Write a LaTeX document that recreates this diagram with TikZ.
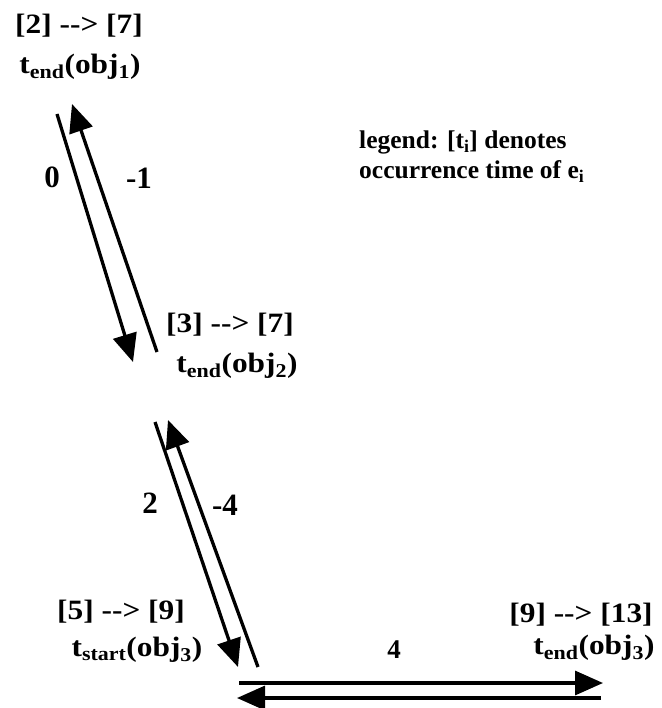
\documentclass[tikz,border=0pt]{standalone}
\usepackage{fontspec}
\setmainfont{Liberation Serif}
\newfontfamily\widefont[FakeStretch=1.12]{Liberation Serif}
\usetikzlibrary{arrows.meta}
\begin{document}
\begin{tikzpicture}[x=1pt,y=-1pt,
  lbl/.style={inner sep=0pt, font=\widefont\fontsize{28}{31}\selectfont\bfseries},
  legendtext/.style={inner sep=0pt, font=\fontsize{25.5}{30}\selectfont\bfseries},
  num/.style={inner sep=0pt, font=\fontsize{31}{33}\selectfont\bfseries},
  edge/.style={line width=3.3pt, -{Triangle[length=28pt,width=24pt]}}]
\useasboundingbox (0,0) rectangle (661,708);
% node labels
\node[lbl] (v1a) at (79,26) {[2] -{}-> [7]};
\node[lbl] (v1b) at (80,67) {t\textsubscript{end}(obj\textsubscript{1})};
\node[lbl] (v2a) at (230,325) {[3] -{}-> [7]};
\node[lbl] (v2b) at (237,366) {t\textsubscript{end}(obj\textsubscript{2})};
\node[lbl] (v3a) at (121,612) {[5] -{}-> [9]};
\node[lbl] (v3b) at (137,650) {t\textsubscript{start}(obj\textsubscript{3})};
\node[lbl] (v4a) at (581,615) {[9] -{}-> [13]};
\node[lbl] (v4b) at (594,648) {t\textsubscript{end}(obj\textsubscript{3})};
% legend
\node[legendtext, anchor=west, align=left] (legend) at (359,157)
  {legend: [t\textsubscript{i}] denotes\\occurrence time of e\textsubscript{i}};
% edge end points
\coordinate (p1s) at (57,114);  \coordinate (p1e) at (133,362);
\coordinate (q1s) at (157,352); \coordinate (q1e) at (72,104);
\coordinate (p2s) at (155,422); \coordinate (p2e) at (238,667);
\coordinate (q2s) at (258,667); \coordinate (q2e) at (168,420);
\coordinate (p3s) at (239,683); \coordinate (p3e) at (603,683);
\coordinate (q3s) at (601,698); \coordinate (q3e) at (237,698);
% connectors
\draw[edge] (p1s) -- (p1e);
\draw[edge] (q1s) -- (q1e);
\draw[edge] (p2s) -- (p2e);
\draw[edge] (q2s) -- (q2e);
\draw[edge] (p3s) -- (p3e);
\draw[edge] (q3s) -- (q3e);
% weights
\node[num] (w0) at (52,177) {0};
\node[num] (wm1) at (139,178) {-1};
\node[num] (w2) at (150,503) {2};
\node[num] (wm4) at (225,505) {-4};
\node[num, font=\fontsize{27}{30}\selectfont\bfseries] (w4) at (394,650) {4};
\end{tikzpicture}
\end{document}
